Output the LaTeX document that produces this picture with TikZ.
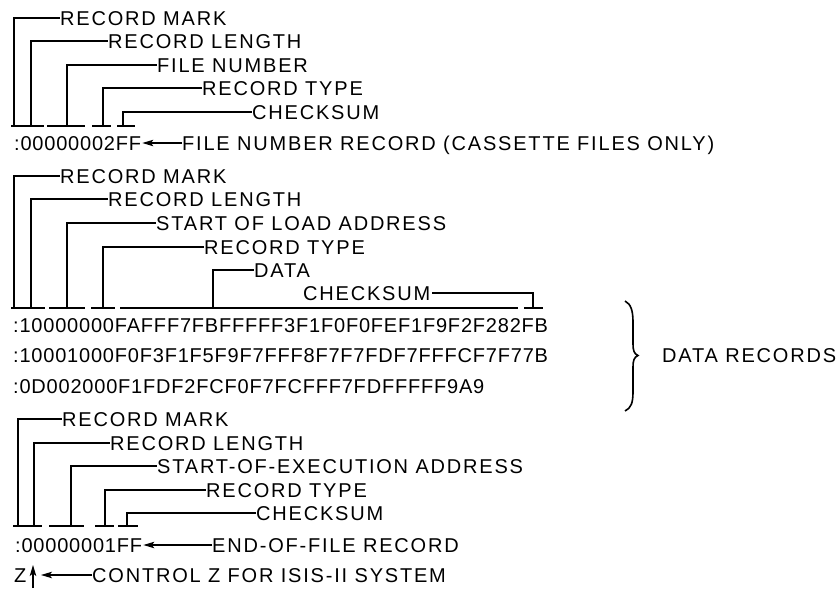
\documentclass[tikz,border=0pt]{standalone}
\usepackage{fontspec}
\usetikzlibrary{arrows.meta}
\newfontfamily\lblfam[LetterSpace=9]{Liberation Sans}
\newfontfamily\hexfam[LetterSpace=4]{Liberation Sans}
\newcommand\lblfont{\lblfam\fontsize{20pt}{24pt}\selectfont}
\newcommand\hexfont{\hexfam\fontsize{20pt}{24pt}\selectfont}
\begin{document}
\begin{tikzpicture}[x=1pt,y=-1pt,
  lbl/.style={font=\lblfont,anchor=west,inner sep=0pt,text height=14.3pt,text depth=0pt},
  hex/.style={font=\hexfont,anchor=west,inner sep=0pt,text height=14.3pt,text depth=0pt},
  wire/.style={line width=1.1pt},
  arr/.style={wire,-{Stealth[length=11pt,width=6.5pt,inset=2.5pt]}}]
\fill[white] (0,0) rectangle (840,589);
\useasboundingbox (0,0) rectangle (840,589);

% ---------- group 1: file number record ----------
\node[lbl] (a1) at (60,18) {RECORD MARK};
\node[lbl] (a2) at (108,41) {RECORD LENGTH};
\node[lbl] (a3) at (157,65) {FILE NUMBER};
\node[lbl] (a4) at (202,88) {RECORD TYPE};
\node[lbl] (a5) at (252,112) {CHECKSUM};
\coordinate (ta1) at (14,126);
\coordinate (ta2) at (31,126);
\coordinate (ta3) at (67,126);
\coordinate (ta4) at (103,126);
\coordinate (ta5) at (123,126);
\draw[wire] (11,126) -- (44,126);
\draw[wire] (47,126) -- (85,126);
\draw[wire] (92,126) -- (111,126);
\draw[wire] (117,126) -- (135,126);
\draw[wire] (ta1) |- (a1.west);
\draw[wire] (ta2) |- (a2.west);
\draw[wire] (ta3) |- (a3.west);
\draw[wire] (ta4) |- (a4.west);
\draw[wire] (ta5) |- (a5.west);
\node[hex] (ah) at (14,143) {:00000002FF};
\node[lbl] (an) at (182,143) {FILE NUMBER RECORD (CASSETTE FILES ONLY)};
\draw[arr] (an.west) -- ([xshift=1pt]ah.east);

% ---------- group 2: data records ----------
\node[lbl] (b1) at (60,176) {RECORD MARK};
\node[lbl] (b2) at (108,199) {RECORD LENGTH};
\node[lbl] (b3) at (156,223) {START OF LOAD ADDRESS};
\node[lbl] (b4) at (204,247) {RECORD TYPE};
\node[lbl] (b5) at (254,270) {DATA};
\node[lbl] (b6) at (303,293) {CHECKSUM};
\coordinate (tb1) at (14,308);
\coordinate (tb2) at (31,308);
\coordinate (tb3) at (67,308);
\coordinate (tb4) at (103,308);
\coordinate (tb5) at (213,308);
\coordinate (tb6) at (533,308);
\draw[wire] (11,308) -- (45,308);
\draw[wire] (49,308) -- (85,308);
\draw[wire] (91,308) -- (115,308);
\draw[wire] (120,308) -- (518,308);
\draw[wire] (524,308) -- (543,308);
\draw[wire] (tb1) |- (b1.west);
\draw[wire] (tb2) |- (b2.west);
\draw[wire] (tb3) |- (b3.west);
\draw[wire] (tb4) |- (b4.west);
\draw[wire] (tb5) |- (b5.west);
\draw[wire] ([xshift=2pt]b6.east) -| (tb6);
\node[hex] (d1) at (13,325) {:10000000FAFFF7FBFFFFF3F1F0F0FEF1F9F2F282FB};
\node[hex] (d2) at (13,355) {:10001000F0F3F1F5F9F7FFF8F7F7FDF7FFFCF7F77B};
\node[hex] (d3) at (13,386) {:0D002000F1FDF2FCF0F7FCFFF7FDFFFFF9A9};
\draw[line width=1.6pt] (625,301) .. controls (631,304) and (633,311) .. (633,322)
  -- (633,344) .. controls (633,350) and (634,354) .. (638,355.5)
  .. controls (634,357) and (633,361) .. (633,367)
  -- (633,392) .. controls (633,403) and (631,408) .. (625,411);
\node[lbl] (dr) at (662,355) {DATA RECORDS};

% ---------- group 3: end-of-file record ----------
\node[lbl] (c1) at (62,419) {RECORD MARK};
\node[lbl] (c2) at (110,443) {RECORD LENGTH};
\node[lbl] (c3) at (157,466) {START-OF-EXECUTION ADDRESS};
\node[lbl] (c4) at (206,490) {RECORD TYPE};
\node[lbl] (c5) at (256,513) {CHECKSUM};
\coordinate (tc1) at (18,526);
\coordinate (tc2) at (34,526);
\coordinate (tc3) at (71,526);
\coordinate (tc4) at (105,526);
\coordinate (tc5) at (127,526);
\draw[wire] (13,526) -- (42,526);
\draw[wire] (49,526) -- (84,526);
\draw[wire] (95,526) -- (114,526);
\draw[wire] (118,526) -- (138,526);
\draw[wire] (tc1) |- (c1.west);
\draw[wire] (tc2) |- (c2.west);
\draw[wire] (tc3) |- (c3.west);
\draw[wire] (tc4) |- (c4.west);
\draw[wire] (tc5) |- (c5.west);
\node[hex] (ch) at (15,545) {:00000001FF};
\node[lbl] (cn) at (212,545) {END-OF-FILE RECORD};
\draw[arr] (cn.west) -- ([xshift=1pt]ch.east);
\node[hex] (z) at (14,575) {Z};
\coordinate (zb) at (33,588);
\coordinate (zt) at (33,565);
\draw[arr] (zb) -- (zt);
\node[lbl] (zn) at (92,575) {CONTROL Z FOR ISIS-II SYSTEM};
\coordinate (zl) at (41,575);
\draw[arr] (zn.west) -- (zl);
\end{tikzpicture}
\end{document}
